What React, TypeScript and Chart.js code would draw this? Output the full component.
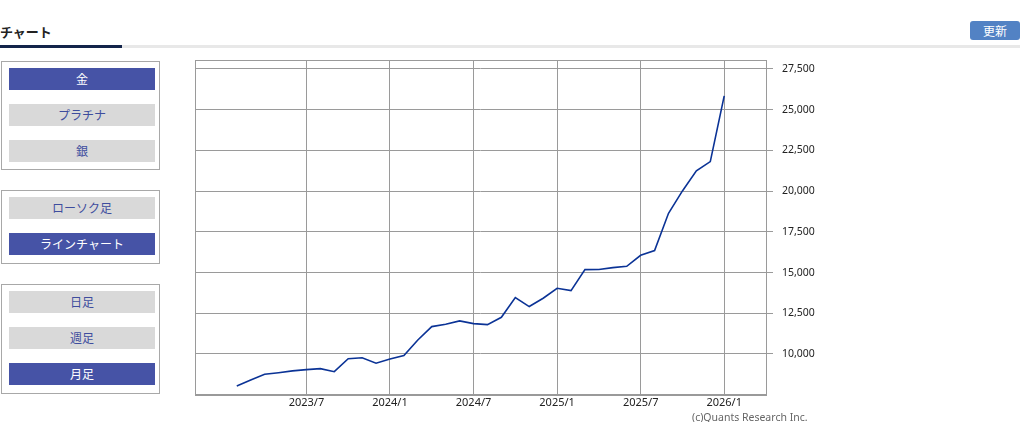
import React, { useEffect, useRef } from "react";
import { Chart, registerables } from "chart.js";

Chart.register(...registerables);

// ---- data ----
const months: string[] = [
  "2023/2", "2023/3", "2023/4", "2023/5", "2023/6", "2023/7", "2023/8", "2023/9", "2023/10", "2023/11", "2023/12",
  "2024/1", "2024/2", "2024/3", "2024/4", "2024/5", "2024/6", "2024/7", "2024/8", "2024/9", "2024/10", "2024/11", "2024/12",
  "2025/1", "2025/2", "2025/3", "2025/4", "2025/5", "2025/6", "2025/7", "2025/8", "2025/9", "2025/10", "2025/11", "2025/12",
  "2026/1",
];
const goldPrices: number[] = [
  8030, 8400, 8750, 8850, 8960, 9040, 9100, 8910, 9710, 9770, 9430,
  9690, 9900, 10860, 11680, 11820, 12030, 11860, 11800, 12250, 13460, 12910, 13420,
  14030, 13890, 15180, 15190, 15300, 15380, 16060, 16350, 18640, 20010, 21240, 21810,
  25850,
];
const xTickLabels: string[] = ["2023/7", "2024/1", "2024/7", "2025/1", "2025/7", "2026/1"];
const yTickValues: number[] = [10000, 12500, 15000, 17500, 20000, 22500, 25000, 27500];

const metalButtons = ["金", "プラチナ", "銀"];
const typeButtons = ["ローソク足", "ラインチャート"];
const periodButtons = ["日足", "週足", "月足"];

const GRID = "#9a9a9a";
const FONT = "'Noto Sans', 'Noto Sans CJK JP', sans-serif";

const frame = {
  id: "frame",
  afterDraw(chart: any) {
    const { ctx, chartArea } = chart;
    ctx.save();
    ctx.strokeStyle = GRID;
    ctx.lineWidth = 1;
    ctx.strokeRect(
      Math.round(chartArea.left) + 0.5,
      Math.round(chartArea.top) + 0.5,
      Math.round(chartArea.right - chartArea.left),
      Math.round(chartArea.bottom - chartArea.top)
    );
    ctx.restore();
  },
};

function LineChart() {
  const ref = useRef<HTMLCanvasElement | null>(null);
  useEffect(() => {
    if (!ref.current) return;
    const chart = new Chart(ref.current, {
      type: "line",
      data: {
        datasets: [
          {
            data: goldPrices.map((v, i) => ({ x: i, y: v })),
            borderColor: "#0b3396",
            borderWidth: 1.6,
            pointRadius: 0,
            tension: 0,
            fill: false,
          },
        ],
      },
      options: {
        animation: false,
        responsive: false,
        maintainAspectRatio: false,
        layout: { padding: { left: 10, top: 5, right: 0, bottom: 0 } },
        plugins: { legend: { display: false }, tooltip: { enabled: false } },
        scales: {
          x: {
            type: "linear",
            min: -3,
            max: 38,
            afterBuildTicks: (scale: any) => {
              scale.ticks = xTickLabels.map((l) => ({ value: months.indexOf(l) }));
            },
            afterFit: (scale: any) => {
              scale.height = 20.5;
              scale.paddingLeft = 0;
              scale.paddingRight = 0;
            },
            grid: { color: GRID, drawTicks: false },
            border: { display: true, color: GRID },
            ticks: {
              autoSkip: false,
              maxRotation: 0,
              padding: 2,
              color: "#222",
              font: { size: 11, family: FONT },
              callback: (v: any) => months[v as number] ?? "",
            },
          },
          y: {
            type: "linear",
            position: "right",
            min: 7510,
            max: 28050,
            afterBuildTicks: (scale: any) => {
              scale.ticks = yTickValues.map((v) => ({ value: v }));
            },
            afterFit: (scale: any) => {
              scale.width = 64;
              scale.paddingTop = 0;
              scale.paddingBottom = 0;
            },
            grid: { color: GRID, drawTicks: true, tickLength: 7 },
            border: { display: true, color: GRID },
            ticks: {
              padding: 9,
              color: "#222",
              font: { size: 10.5, family: FONT },
              callback: (v: any) => Number(v).toLocaleString("en-US"),
            },
          },
        },
      },
      plugins: [frame],
    } as any);
    return () => chart.destroy();
  }, []);
  return (
    <canvas
      ref={ref}
      width={645}
      height={360}
      style={{ position: "absolute", left: 185, top: 55, width: 645, height: 360 }}
    />
  );
}

function Panel({ top, height, labels, active }: { top: number; height: number; labels: string[]; active: number }) {
  return (
    <div
      style={{
        position: "absolute",
        left: 1,
        top,
        width: 159,
        height,
        border: "1px solid #a8a8a8",
        boxSizing: "border-box",
      }}
    >
      {labels.map((l, i) => (
        <div
          key={l}
          style={{
            position: "absolute",
            left: 7,
            top: 6 + i * 36,
            width: 146,
            height: 22,
            lineHeight: "22px",
            textAlign: "center",
            background: i === active ? "#4653a6" : "#d9d9d9",
            color: i === active ? "#ffffff" : "#3e4d9e",
            fontSize: 12,
            fontFamily: "'Noto Sans CJK JP', sans-serif",
          }}
        >
          {l}
        </div>
      ))}
    </div>
  );
}

export default function App() {
  return (
    <div
      style={{
        position: "absolute",
        left: 0,
        top: 0,
        width: 1020,
        height: 422,
        background: "#fff",
        overflow: "hidden",
        fontFamily: "'Noto Sans CJK JP', sans-serif",
      }}
    >
      <div
        style={{
          position: "absolute",
          left: 0,
          top: 22,
          fontSize: 13,
          fontWeight: 700,
          color: "#222",
          lineHeight: "20px",
        }}
      >
        チャート
      </div>
      <div style={{ position: "absolute", left: 122, top: 45, width: 898, height: 3, background: "#e8e8e8" }} />
      <div style={{ position: "absolute", left: 0, top: 45, width: 122, height: 3, background: "#13244a" }} />
      <div
        style={{
          position: "absolute",
          left: 970,
          top: 21,
          width: 50,
          height: 19,
          background: "#5282c4",
          borderRadius: 3,
          color: "#fff",
          fontSize: 12,
          lineHeight: "19px",
          textAlign: "center",
        }}
      >
        更新
      </div>
      <Panel top={61} height={109} labels={metalButtons} active={0} />
      <Panel top={190} height={74} labels={typeButtons} active={1} />
      <Panel top={284} height={110} labels={periodButtons} active={2} />
      <LineChart />
      <div
        style={{
          position: "absolute",
          left: 692,
          top: 410,
          fontSize: 10.5,
          color: "#666",
          fontFamily: FONT,
          lineHeight: "14px",
          whiteSpace: "nowrap",
        }}
      >
        (c)Quants Research Inc.
      </div>
    </div>
  );
}
